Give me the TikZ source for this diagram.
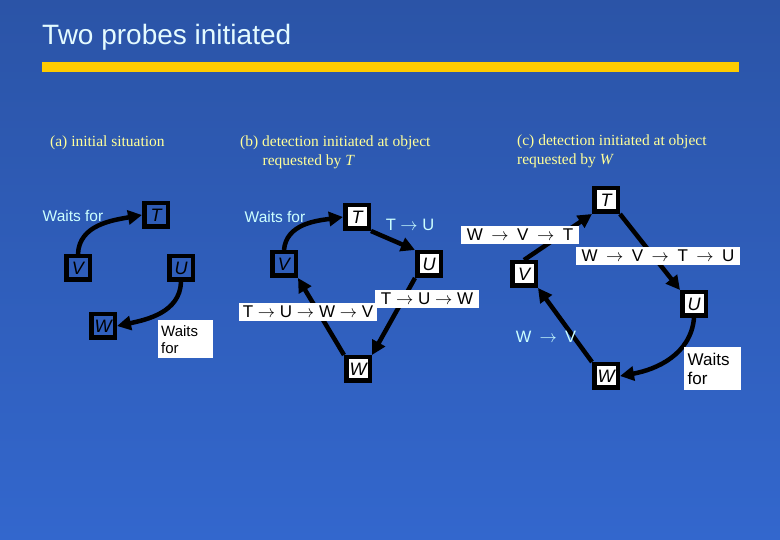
\documentclass[tikz,border=0pt]{standalone}
\usepackage{fontspec}
\setmainfont{Liberation Sans}
\newfontfamily\headfont{Liberation Serif}
\usetikzlibrary{arrows.meta}

\definecolor{bgtop}{HTML}{2B54A7}
\definecolor{bgbot}{HTML}{3367CD}
\definecolor{barcol}{HTML}{FFCC00}
\definecolor{palecyan}{HTML}{CCFFFF}
\definecolor{titlecol}{HTML}{E4FBFF}
\definecolor{headyel}{HTML}{FFFF99}

\newcommand{\wto}{\enspace$\rightarrow$\enspace}

\tikzset{
  obj/.style={draw=black, line width=4.5pt, minimum size=23.5pt, inner sep=0pt,
    font=\fontsize{18}{18}\selectfont\itshape},
  objw/.style={obj, fill=white},
  tag/.style={fill=white, inner xsep=3.5pt, inner ysep=3.5pt, font=\fontsize{17}{17}\selectfont},
  note/.style={text=palecyan, inner sep=0pt, font=\fontsize{15.5}{16}\selectfont},
  waitbox/.style={fill=white, align=left, inner sep=3pt, anchor=north west},
  head/.style={text=headyel, align=left, anchor=base west, inner sep=0pt,
    font=\headfont\fontsize{15.5}{19}\selectfont},
  probe/.style={line width=4.5pt, -{Triangle[length=14pt,width=14pt]}},
}

\begin{document}
\begin{tikzpicture}[x=1pt, y=-1pt]
	% slide background
	\shade[top color=bgtop, bottom color=bgbot] (0,0) rectangle (780,540);
	\useasboundingbox (0,0) rectangle (780,540);
	\node[anchor=base west, inner sep=0pt, text=titlecol, font=\fontsize{28}{28}\selectfont]
		(title) at (42,45) {Two probes initiated};
	\fill[barcol] (42,62) rectangle (739,72);

	% captions (base = last line)
	\node[head] (capa) at (50,147) {(a) initial situation};
	\node[head] (capb) at (240,166) {(b) detection initiated at object\\
		\hspace*{1.45em}requested by \textit{T}};
	\node[head] (capc) at (517,165) {(c) detection initiated at object\\
		requested by \textit{W}};

	% (a) initial situation
	\node[obj] (Ta) at (156,215) {T};
	\node[obj] (Va) at (78,268) {V};
	\node[obj] (Ua) at (181,268) {U};
	\node[obj] (Wa) at (103,326) {W};
	\node[note] (wfa) at (73,216) {Waits for};
	\draw[probe] (Va.north) to[out=88, in=190] (Ta.west);
	\draw[probe] (Ua.south) to[out=-92, in=12] (Wa.east);
	\node[waitbox, minimum width=55pt, minimum height=38pt, text width=49pt,
		font=\fontsize{15}{17}\selectfont] (wba) at (158,320) {Waits\\for};

	% (b) probe from T
	\node[objw] (Tb) at (357,217) {T};
	\node[obj] (Vb) at (284,264) {V};
	\node[objw] (Ub) at (429,264) {U};
	\node[objw] (Wb) at (358,369) {W};
	\node[note] (wfb) at (275,217) {Waits for};
	\draw[probe] (Vb.north) to[out=85, in=188] (Tb.west);
	\draw[probe] (Tb.south east) -- (Ub.north west);
	\draw[probe] (Ub.south west) -- (Wb.north east);
	\draw[probe] (Wb.north west) -- (Vb.south east);
	\node[note, font=\fontsize{16.5}{16}\selectfont] (tub) at (410,225) {T $\rightarrow$ U};
	\node[tag, inner xsep=6pt] (tuwb) at (427,299) {T $\rightarrow$ U $\rightarrow$ W};
	\node[tag] (tuwvb) at (308,312) {T $\rightarrow$ U $\rightarrow$ W $\rightarrow$ V};

	% (c) probe from W
	\node[objw] (Tc) at (606,200) {T};
	\node[objw] (Vc) at (524,274) {V};
	\node[objw] (Uc) at (694,304) {U};
	\node[objw] (Wc) at (606,376) {W};
	\draw[probe] (Vc.north) -- (Tc.south west);
	\draw[probe] (Tc.south east) -- (Uc.north west);
	\draw[probe] (Uc.south) to[out=-95, in=10] (Wc.east);
	\draw[probe] (Wc.north west) -- (Vc.south east);
	\node[tag, inner xsep=6pt] (wvtc) at (520,235) {W\wto V\wto T};
	\node[tag, inner xsep=6pt] (wvtuc) at (658,256) {W\wto V\wto T\wto U};
	\node[note, font=\fontsize{16.5}{16}\selectfont] (wvc) at (546,337) {W\wto V};
	\node[waitbox, minimum width=57pt, minimum height=43pt, text width=50pt,
		font=\fontsize{17}{19}\selectfont] (wbc) at (684,347) {Waits\\for};
\end{tikzpicture}
\end{document}
